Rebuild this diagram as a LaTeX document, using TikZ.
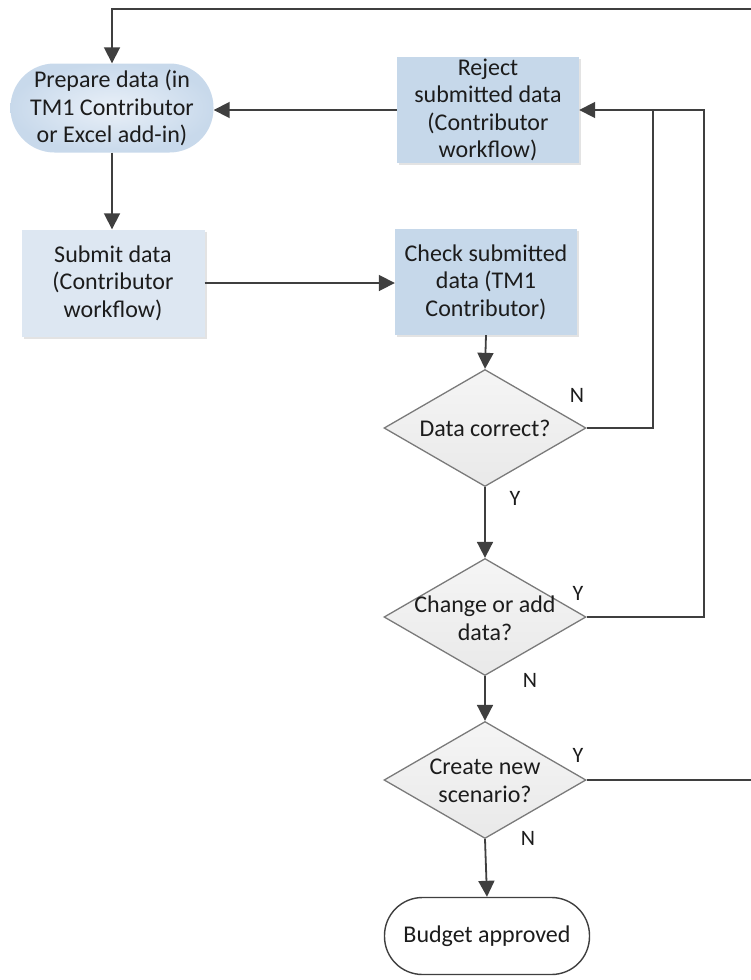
\documentclass[tikz,border=0pt]{standalone}
\usepackage{fontspec}
\setmainfont{Carlito}
\usetikzlibrary{arrows.meta,shapes.geometric,shadows}
\definecolor{lineC}{HTML}{3F3F3F}
\definecolor{boxA}{HTML}{C6D8EA}
\definecolor{boxB}{HTML}{DDE7F2}
\definecolor{prepIn}{HTML}{E9F0F8}
\definecolor{prepOut}{HTML}{C8D9EB}
\definecolor{diaTop}{HTML}{F5F5F5}
\definecolor{diaBot}{HTML}{E9E9E9}
\definecolor{diaLine}{HTML}{7A7A7A}
\definecolor{txt}{HTML}{1C1C1C}
\tikzset{
  every node/.style={text=txt},
  txtfont/.style={font=\fontsize{24}{27.5}\selectfont, align=center},
  procbox/.style={rectangle, txtfont, inner sep=0pt, drop shadow={shadow xshift=2pt, shadow yshift=-2pt, fill=black!18, opacity=0.6}},
  darkbox/.style={procbox, fill=boxA, minimum width=182pt, minimum height=106pt},
  lightbox/.style={procbox, fill=boxB, minimum width=183pt, minimum height=107pt},
  prepshape/.style={rectangle, rounded corners=44pt, inner color=prepIn, outer color=prepOut, minimum width=203pt, minimum height=89pt, txtfont, inner sep=0pt},
  dia/.style={diamond, draw=diaLine, line width=1.3pt, top color=diaTop, bottom color=diaBot, minimum width=202pt, minimum height=117pt, inner sep=0pt},
  diatext/.style={txtfont},
  endshape/.style={rectangle, rounded corners=38pt, draw=lineC, line width=1.4pt, fill=white, minimum width=205pt, minimum height=77pt, txtfont, inner sep=0pt},
  ln/.style={draw=lineC, line width=1.8pt},
  arr/.style={ln, -{Triangle[length=16pt,width=16pt]}},
  yn/.style={font=\fontsize{22}{24}\selectfont, text=txt}
}
\begin{document}
\begin{tikzpicture}[x=1pt,y=-1pt]
\useasboundingbox (0,0) rectangle (751,980);
% nodes
\node[prepshape] (prep) at (112,108) {Prepare data (in\\TM1 Contributor\\or Excel add-in)};
\node[darkbox] (rej) at (488,110) {Reject\\submitted data\\(Contributor\\workflow)};
\node[lightbox] (sub) at (113,283) {Submit data\\(Contributor\\workflow)};
\node[darkbox] (chk) at (486,282) {Check submitted\\data (TM1\\Contributor)};
\node[dia] (d1) at (485,428) {};
\node[diatext] (d1t) at (485,428) {Data correct?};
\node[dia] (d2) at (485,617) {};
\node[diatext] (d2t) at (485,618) {Change or add\\data?};
\node[dia] (d3) at (485,780) {};
\node[diatext] (d3t) at (485,781) {Create new\\scenario?};
\node[endshape] (bud) at (487,936) {Budget approved};
% labels
\node[yn] (n1) at (577,395) {N};
\node[yn] (y1) at (515,498) {Y};
\node[yn] (y2) at (578,593) {Y};
\node[yn] (n2) at (530,680) {N};
\node[yn] (y3) at (578,755) {Y};
\node[yn] (n3) at (528,838) {N};
% coordinates
\coordinate (offR) at (775,780);
\coordinate (offT) at (775,9);
\coordinate (j1) at (653,110);
\coordinate (j2) at (704,110);
% connectors
\draw[arr] (d3.east) -- (offR) -- (offT) -| (prep.north);
\draw[arr] (prep.south) -- (prep.south |- sub.north);
\draw[arr] (sub.east) -- (sub.east -| chk.west);
\draw[arr] (chk.south) -- (d1.north);
\draw[ln] (d1.east) -| (j1);
\draw[arr] (d2.east) -| (j2) -- (rej.east);
\draw[arr] (rej.west) -- (rej.west -| prep.east);
\draw[arr] (d1.south) -- (d2.north);
\draw[arr] (d2.south) -- (d3.north);
\draw[arr] (d3.south) -- (bud.north);
\end{tikzpicture}
\end{document}
